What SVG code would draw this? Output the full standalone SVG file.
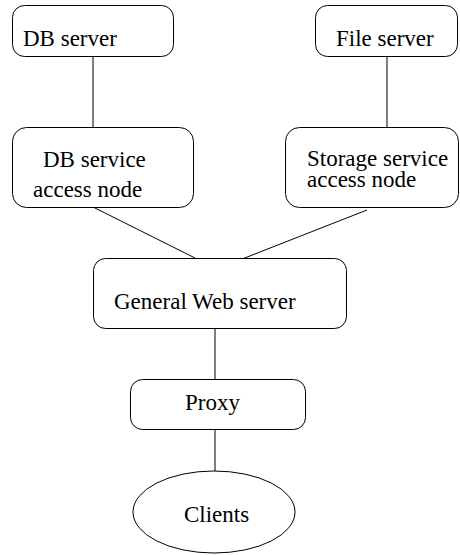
<svg xmlns="http://www.w3.org/2000/svg" width="460" height="555" viewBox="0 0 460 555">
<style>
.box{fill:#fff;stroke:#000;stroke-width:1}
.ln{stroke:#000;stroke-width:1;fill:none}
</style>
<rect width="460" height="555" fill="#fff"/>
<g id="connectors">
<line class="ln" x1="93" y1="56" x2="93" y2="127"/>
<line class="ln" x1="387" y1="56" x2="387" y2="127"/>
<line class="ln" x1="93" y1="207" x2="195" y2="258"/>
<line class="ln" x1="367" y1="210" x2="237" y2="261"/>
<line class="ln" x1="215" y1="329" x2="215" y2="379"/>
<line class="ln" x1="215" y1="430" x2="215" y2="471"/>
</g>
<g font-family="'Liberation Serif', 'Times New Roman', serif" font-size="23" fill="#000">
<g id="db-server">
<rect class="box" x="12.5" y="5.5" width="161" height="51" rx="12"/>
<text x="23" y="46">DB server</text>
</g>
<g id="file-server">
<rect class="box" x="315.5" y="5.5" width="142" height="51" rx="12"/>
<text x="336" y="46">File server</text>
</g>
<g id="db-access">
<rect class="box" x="12.5" y="127.5" width="181" height="80" rx="14"/>
<text x="43" y="167">DB service</text>
<text x="33" y="197">access node</text>
</g>
<g id="storage-access">
<rect class="box" x="285.5" y="127.5" width="173" height="80" rx="14"/>
<text x="307" y="166">Storage service</text>
<text x="307" y="187">access node</text>
</g>
<g id="web-server">
<rect class="box" x="93.5" y="258.5" width="253" height="70" rx="12"/>
<text x="114" y="309">General Web server</text>
</g>
<g id="proxy">
<rect class="box" x="130.5" y="379.5" width="175" height="50" rx="12"/>
<text x="185" y="410">Proxy</text>
</g>
<g id="clients">
<ellipse class="box" cx="214" cy="512" rx="81" ry="41"/>
<text x="184" y="522">Clients</text>
</g>
</g>
</svg>
